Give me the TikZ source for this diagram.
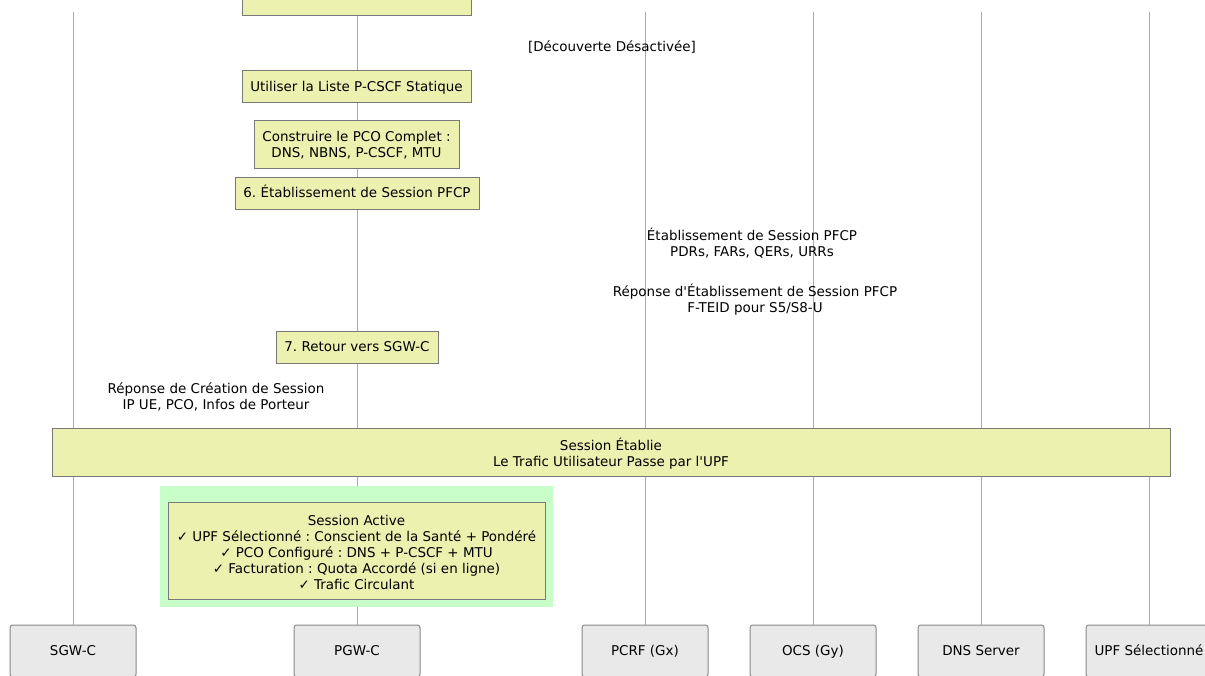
\documentclass[tikz,border=0pt]{standalone}
\usepackage{fontspec}
\setmainfont{DejaVu Sans}
\frenchspacing
\definecolor{notefill}{RGB}{236,241,176}
\definecolor{noteline}{RGB}{120,120,120}
\definecolor{lifeline}{RGB}{170,170,170}
\definecolor{partfill}{RGB}{233,233,233}
\definecolor{partline}{RGB}{136,136,136}
\definecolor{groupfill}{RGB}{200,255,200}
\tikzset{
  every node/.style={font=\fontsize{10.1pt}{12pt}\selectfont, inner sep=0pt, outer sep=0pt},
  notebox/.style={draw=noteline, fill=notefill, line width=0.75pt, align=center},
  oneline/.style={text height=9.4pt, text depth=2pt},
  partbox/.style={draw=partline, fill=partfill, line width=0.75pt, rounded corners=2pt, minimum width=94.5pt, minimum height=39pt, align=center, oneline},
  lline/.style={draw=lifeline, line width=0.75pt},
  msglabel/.style={align=center},
  greenbg/.style={fill=groupfill, draw=none}
}
\begin{document}
\begin{tikzpicture}[x=0.75pt,y=-0.75pt]
\useasboundingbox (0,0) rectangle (1205,675);
\clip (0,0) rectangle (1205,675);
% participants
\node[partbox] (sgw) at (73,651) {SGW-C};
\node[partbox] (pgw) at (357,651) {PGW-C};
\node[partbox] (pcrf) at (645,651) {PCRF (Gx)};
\node[partbox] (ocs) at (813,651) {OCS (Gy)};
\node[partbox] (dns) at (981,651) {DNS Server};
\node[partbox] (upf) at (1149,651) {UPF Sélectionné};
% lifeline tops
\coordinate (tsgw) at (73,12);
\coordinate (tpgw) at (357,0);
\coordinate (tpcrf) at (645,12);
\coordinate (tocs) at (813,12);
\coordinate (tdns) at (981,12);
\coordinate (tupf) at (1149,12);
\draw[lline] (tsgw) -- (sgw.north);
\draw[lline] (tpgw) -- (pgw.north);
\draw[lline] (tpcrf) -- (pcrf.north);
\draw[lline] (tocs) -- (ocs.north);
\draw[lline] (tdns) -- (dns.north);
\draw[lline] (tupf) -- (upf.north);
% notes
\node[notebox, minimum width=171.75pt, minimum height=26.25pt] (ntop) at (356.5,-2.5) {};
\node[msglabel, oneline] (disc) at (612,46.5) {[Découverte Désactivée]};
\node[notebox, oneline, minimum width=171.75pt, minimum height=24pt] (nstat) at (356.5,86.5) {Utiliser la Liste P-CSCF Statique};
\node[notebox, minimum width=153.75pt, minimum height=36pt] (npco) at (356.5,144) {};
\node[msglabel] (npcot) at (356.5,145) {Construire le PCO Complet :\\DNS, NBNS, P-CSCF, MTU};
\node[notebox, oneline, minimum width=183pt, minimum height=24pt] (n6) at (357,193) {6. Établissement de Session PFCP};
\node[msglabel] (m1) at (752,243) {Établissement de Session PFCP\\PDRs, FARs, QERs, URRs};
\node[msglabel] (m2) at (755,300) {Réponse d\textquotesingle Établissement de Session PFCP\\F-TEID pour S5/S8-U};
\node[notebox, oneline, minimum width=121.5pt, minimum height=24pt] (n7) at (357,347) {7. Retour vers SGW-C};
\node[msglabel] (m3) at (216,397) {Réponse de Création de Session\\IP UE, PCO, Infos de Porteur};
\node[notebox, minimum width=838.5pt, minimum height=36pt] (nest) at (611,452) {};
\node[msglabel] (nestt) at (611,453.5) {Session Établie\\Le Trafic Utilisateur Passe par l\textquotesingle UPF};
\node[greenbg, minimum width=294.75pt, minimum height=90.75pt] (grp) at (356.5,546.5) {};
\node[notebox, minimum width=282.75pt, minimum height=72.75pt] (nact) at (356.5,550.5) {};
\node[msglabel] (nactt) at (356.5,552) {Session Active\\✓ UPF Sélectionné : Conscient de la Santé + Pondéré\\✓ PCO Configuré : DNS + P-CSCF + MTU\\✓ Facturation : Quota Accordé (si en ligne)\\✓ Trafic Circulant};
\end{tikzpicture}
\end{document}
